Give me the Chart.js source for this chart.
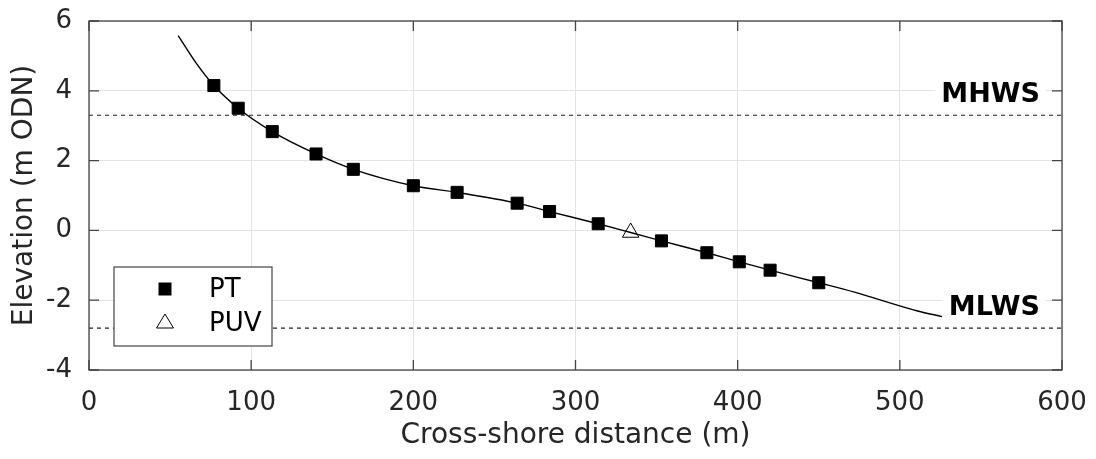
<!DOCTYPE html>
<html>
<head>
<meta charset="utf-8">
<script src="https://cdn.jsdelivr.net/npm/chart.js@4.4.1/dist/chart.umd.min.js"></script>
<style>
  html, body { margin: 0; padding: 0; background: #fff; }
  #wrap { width: 1096px; height: 459px; }
</style>
</head>
<body>
<div id="wrap"><canvas id="myChart" width="1096" height="459"></canvas></div>
<script>
// beach profile (cross-shore distance in m, elevation in m ODN)
var profileX = [55, 66, 77, 92, 113, 140, 163, 200, 227, 264, 284, 314, 334, 353, 381, 401, 420, 450, 472, 511, 526];
var profileY = [5.58, 4.80, 4.15, 3.50, 2.83, 2.19, 1.75, 1.28, 1.09, 0.78, 0.54, 0.19, -0.06, -0.30, -0.64, -0.90, -1.14, -1.50, -1.77, -2.31, -2.47];

// pressure transducers
var ptX = [77, 92, 113, 140, 163, 200, 227, 264, 284, 314, 353, 381, 401, 420, 450];
var ptY = [4.15, 3.50, 2.83, 2.19, 1.75, 1.28, 1.09, 0.78, 0.54, 0.19, -0.30, -0.64, -0.90, -1.14, -1.50];

// PUV
var puvX = [334];
var puvY = [-0.06];

// tide levels
var tideNames = ['MHWS', 'MLWS'];
var tideLevels = [3.3, -2.8];

var xTicks = [0, 100, 200, 300, 400, 500, 600];
var yTicks = [-4, -2, 0, 2, 4, 6];

function pairs(xs, ys) {
    return xs.map(function(x, i) { return {x: x, y: ys[i]}; });
}

var FONT = "'DejaVu Sans', 'Liberation Sans', Arial, sans-serif";
var TXT = '#262626';

var datasets = [];
tideLevels.forEach(function(lv, i) {
    datasets.push({
        label: tideNames[i],
        data: [{x: xTicks[0], y: lv}, {x: xTicks[xTicks.length - 1], y: lv}],
        showLine: true,
        borderColor: '#222',
        borderWidth: 1.2,
        borderDash: [4, 4],
        pointRadius: 0
    });
});
datasets.push({
    label: 'profile',
    data: pairs(profileX, profileY),
    showLine: true,
    borderColor: '#000',
    borderWidth: 1.4,
    cubicInterpolationMode: 'monotone',
    pointRadius: 0
});
datasets.push({
    label: 'PT',
    data: pairs(ptX, ptY),
    pointStyle: 'rect',
    pointRadius: 8.5,
    backgroundColor: '#000',
    borderColor: '#000',
    borderWidth: 1
});
datasets.push({
    label: 'PUV',
    data: pairs(puvX, puvY),
    pointStyle: 'triangle',
    pointRadius: 9.5,
    backgroundColor: '#fff',
    borderColor: '#000',
    borderWidth: 1
});

// frame, inward ticks, tide labels and legend
var decorPlugin = {
    id: 'decor',
    afterDatasetsDraw: function(chart) {
        var ctx = chart.ctx;
        var a = chart.chartArea;
        var xs = chart.scales.x, ys = chart.scales.y;
        ctx.save();

        // tide labels
        ctx.font = 'bold 27px ' + FONT;
        ctx.textAlign = 'right';
        ctx.textBaseline = 'middle';
        tideNames.forEach(function(name, i) {
            var y = ys.getPixelForValue(tideLevels[i]) - 20;
            var w = ctx.measureText(name).width;
            var xr = a.right - 22;
            ctx.fillStyle = '#fff';
            ctx.fillRect(xr - w - 6, y - 14, w + 12, 28);
            ctx.fillStyle = '#000';
            ctx.fillText(name, xr, y);
        });

        // frame
        ctx.strokeStyle = '#444';
        ctx.lineWidth = 1.3;
        ctx.strokeRect(a.left, a.top, a.right - a.left, a.bottom - a.top);
        ctx.beginPath();
        xTicks.forEach(function(v) {
            var px = xs.getPixelForValue(v);
            ctx.moveTo(px, a.bottom); ctx.lineTo(px, a.bottom - 10);
            ctx.moveTo(px, a.top); ctx.lineTo(px, a.top + 10);
        });
        yTicks.forEach(function(v) {
            var py = ys.getPixelForValue(v);
            ctx.moveTo(a.left, py); ctx.lineTo(a.left + 10, py);
            ctx.moveTo(a.right, py); ctx.lineTo(a.right - 10, py);
        });
        ctx.stroke();

        // legend box
        var lx = a.left + 25, ly = a.bottom - 103, lw = 158, lh = 79;
        ctx.fillStyle = '#fff';
        ctx.fillRect(lx, ly, lw, lh);
        ctx.strokeStyle = '#444';
        ctx.lineWidth = 1.2;
        ctx.strokeRect(lx, ly, lw, lh);
        var mx = lx + 51;
        var r1 = ly + 22, r2 = ly + 56;
        ctx.fillStyle = '#000';
        ctx.fillRect(mx - 6.5, r1 - 6.5, 13, 13);
        ctx.beginPath();
        ctx.moveTo(mx, r2 - 9);
        ctx.lineTo(mx + 8.5, r2 + 5);
        ctx.lineTo(mx - 8.5, r2 + 5);
        ctx.closePath();
        ctx.fillStyle = '#fff';
        ctx.fill();
        ctx.strokeStyle = '#000';
        ctx.lineWidth = 1;
        ctx.stroke();
        ctx.font = '26px ' + FONT;
        ctx.textAlign = 'left';
        ctx.fillStyle = '#000';
        ctx.fillText('PT', lx + 95, r1 + 1);
        ctx.fillText('PUV', lx + 95, r2 + 1);

        ctx.restore();
    }
};

var ctx = document.getElementById('myChart').getContext('2d');
var myChart = new Chart(ctx, {
    type: 'scatter',
    data: { datasets: datasets },
    options: {
        responsive: false,
        animation: false,
        layout: { padding: { left: 0, top: 21, right: 34, bottom: 0 } },
        plugins: {
            legend: { display: false },
            tooltip: { enabled: false }
        },
        scales: {
            x: {
                type: 'linear',
                min: 0,
                max: 600,
                afterFit: function(s) {
                    s.height = 89;
                    s.paddingLeft = 0; s.paddingRight = 0;
                },
                afterBuildTicks: function(s) { s.ticks = xTicks.map(function(v) { return {value: v}; }); },
                grid: { color: '#e3e3e3', lineWidth: 1, drawTicks: false },
                border: { display: false },
                ticks: { font: { family: FONT, size: 26 }, color: TXT, padding: 18, maxRotation: 0 },
                title: {
                    display: true,
                    text: 'Cross-shore distance (m)',
                    font: { family: FONT, size: 28 },
                    color: TXT,
                    padding: { top: 0, bottom: 6 }
                }
            },
            y: {
                type: 'linear',
                min: -4,
                max: 6,
                afterFit: function(s) {
                    s.width = 89;
                    s.paddingTop = 0; s.paddingBottom = 0;
                },
                afterBuildTicks: function(s) { s.ticks = yTicks.map(function(v) { return {value: v}; }); },
                grid: { color: '#e3e3e3', lineWidth: 1, drawTicks: false },
                border: { display: false },
                ticks: { font: { family: FONT, size: 26 }, color: TXT, padding: 17 },
                title: {
                    display: true,
                    text: 'Elevation (m ODN)',
                    font: { family: FONT, size: 28 },
                    color: TXT,
                    padding: { top: 8, bottom: 0 }
                }
            }
        }
    },
    plugins: [decorPlugin]
});
</script>
</body>
</html>
